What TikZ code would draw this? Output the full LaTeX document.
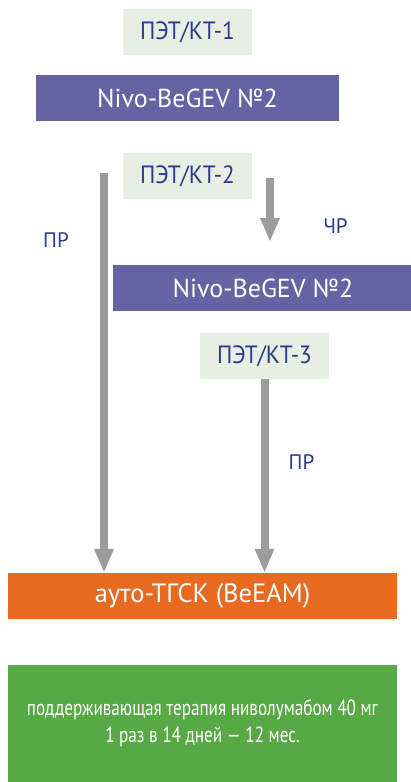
\documentclass[tikz,border=0pt]{standalone}
\usepackage{fontspec}
\setmainfont{PT Sans}
\usetikzlibrary{arrows.meta}
\usetikzlibrary{positioning}
\definecolor{petfill}{HTML}{E6EFE1}
\definecolor{petblue}{HTML}{2B3A8E}
\definecolor{nivofill}{HTML}{6463A3}
\definecolor{autofill}{HTML}{E86A21}
\definecolor{maintfill}{HTML}{56A945}
\definecolor{arrowgray}{HTML}{9C9C9C}
\tikzset{
	petbox/.style={
		rectangle,
		fill=petfill,
		text=petblue,
		minimum width=129pt,
		minimum height=46pt,
		inner sep=0pt,
		font=\fontsize{25}{28}\selectfont\addfontfeatures{FakeStretch=0.93}},
	regimen/.style={
		rectangle,
		fill=nivofill,
		text=white,
		minimum height=46pt,
		inner sep=0pt,
		font=\fontsize{26}{30}\selectfont},
	resp/.style={
		text=petblue,
		inner sep=0pt,
		font=\fontsize{21}{24}\selectfont},
	flow/.style={
		draw=arrowgray,
		line width=8pt,
		-{Triangle[width=18pt,length=24pt]}},
}

\begin{document}
\begin{tikzpicture}
	[x=1pt,y=-1pt]
	\useasboundingbox (0,0) rectangle (411,782);
	% PET/CT checkpoints and therapy blocks
	\node[petbox] (pet1) at (187.5,32) {ПЭТ/КТ-1};
	\node[regimen, minimum width=303pt] (nivoa) at (187.5,98) {Nivo-BeGEV №2};
	\node[petbox] (pet2) at (187.5,176) {ПЭТ/КТ-2};
	\node[regimen, minimum width=300pt] (nivob) at (263,288) {Nivo-BeGEV №2};
	\node[petbox] (pet3) at (264.5,356) {ПЭТ/КТ-3};
	\node[regimen, fill=autofill, minimum width=389pt, font=\fontsize{26.5}{30}\selectfont] (auto) at (202.5,596) {ауто-ТГСК (BeEAM)};
	\node[rectangle, fill=maintfill, text=white, minimum width=389pt, minimum height=117pt,
		align=center, inner sep=0pt,
		font=\fontsize{22}{27}\selectfont\addfontfeatures{FakeStretch=0.78}] (maint) at (202.5,723.5)
		{поддерживающая терапия ниволумабом 40 мг\\1 раз в 14 дней --- 12 мес.};
	% response labels
	\node[resp] (prleft) at (56,240.5) {ПР};
	\node[resp] (chr) at (335.5,226) {ЧР};
	\node[resp] (prright) at (301.5,462) {ПР};
	% arrows
	\coordinate (lefttop) at (104,173);
	\coordinate (crtop) at (270,178);
	\coordinate (crend) at (270,242);
	\draw[flow] (lefttop) -- (lefttop |- auto.north);
	\draw[flow] (crtop) -- (crend);
	\draw[flow] (pet3.south) -- (auto.north -| pet3.south);
\end{tikzpicture}
\end{document}
